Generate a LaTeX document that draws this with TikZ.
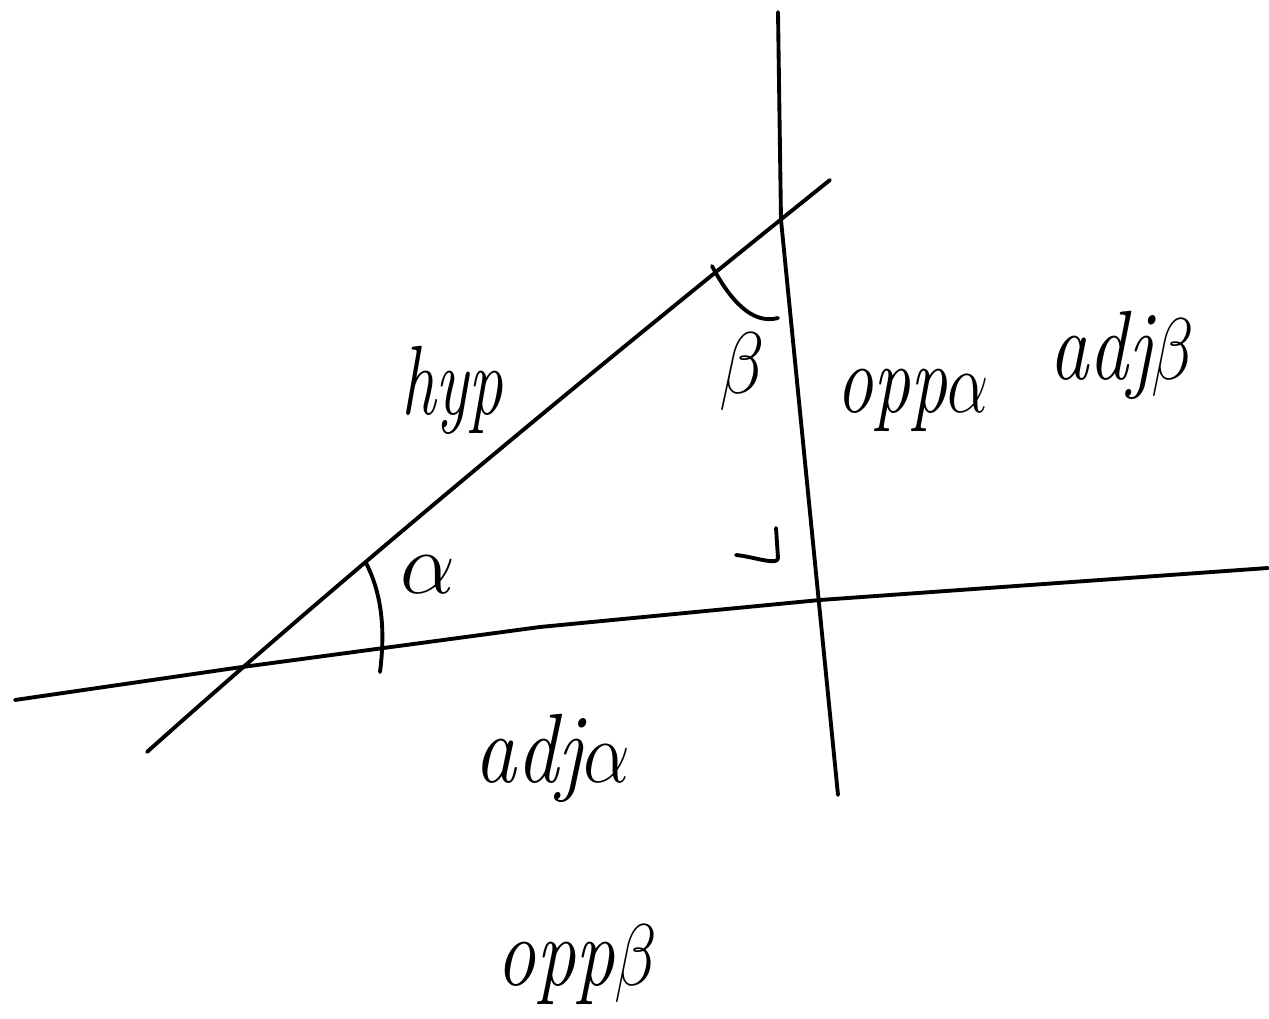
\documentclass[tikz,border=0pt]{standalone}
\usepackage{fontspec}
\begin{document}
\begin{tikzpicture}[x=0.01cm,y=-0.01cm,
  stroke/.style={line width=1.1pt, line cap=round, line join=round},
  lbl/.style={font=\fontsize{28}{34}\selectfont\itshape, inner sep=0pt}]
\useasboundingbox (0,0) rectangle (1269,1019);
% main lines
\coordinate (b1) at (15,700);
\coordinate (b2) at (235,668);
\coordinate (b3) at (540,627);
\coordinate (b4) at (820,600);
\coordinate (b5) at (1268,568);
\coordinate (h1) at (147,752);
\coordinate (h2) at (830,180);
\coordinate (v1) at (778,12);
\coordinate (v2) at (781,220);
\coordinate (v3) at (838,795);
\draw[stroke] (b1) -- (b2) -- (b3) -- (b4) -- (b5);
\draw[stroke] (h1) .. controls (250,660) and (450,485) .. (h2);
\draw[stroke] (v1) -- (v2) -- (v3);
% angle marks
\coordinate (aa1) at (366,563);
\coordinate (aa2) at (380,672);
\draw[stroke] (aa1) .. controls (385,600) and (384,640) .. (aa2);
\coordinate (ba1) at (712,266);
\coordinate (ba2) at (778,318);
\draw[stroke] (ba1) .. controls (730,300) and (752,325) .. (ba2);
\coordinate (r1) at (736,555);
\coordinate (r2) at (776,528);
\draw[stroke] (r1) .. controls (755,557) and (778,566) .. (778,558) -- (r2);
% labels
\node[lbl] (hyp) at (452,390) {\scalebox{0.7}[1]{hyp}};
\node[lbl] (beta) at (742,372) {\scalebox{0.85}[1]{$\beta$}};
\node[lbl] (oppa) at (913,400) {\scalebox{0.75}[1]{opp$\alpha$}};
\node[lbl] (adjb) at (1122,355) {\scalebox{0.8}[1]{adj$\beta$}};
\node[lbl] (alpha) at (428,575) {$\alpha$};
\node[lbl] (adja) at (552,758) {\scalebox{0.85}[1]{adj$\alpha$}};
\node[lbl] (oppb) at (577,965) {\scalebox{0.8}[1]{opp$\beta$}};
\end{tikzpicture}
\end{document}
